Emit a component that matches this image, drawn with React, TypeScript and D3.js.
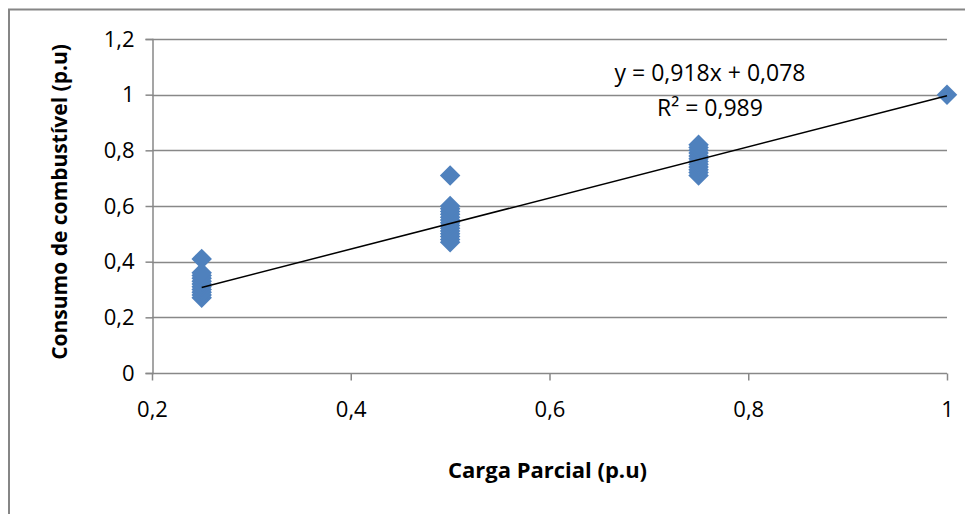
import React, { useEffect, useRef } from 'react';
import * as d3 from 'd3';

// x = carga parcial (p.u), y = consumo de combustível (p.u)
const x25 = [0.27, 0.28, 0.29, 0.3, 0.31, 0.32, 0.33, 0.34, 0.35, 0.36, 0.41];
const x50 = [0.47, 0.48, 0.49, 0.5, 0.51, 0.52, 0.53, 0.54, 0.55, 0.56, 0.57, 0.58, 0.59, 0.6, 0.71];
const x75 = [0.71, 0.72, 0.73, 0.74, 0.75, 0.76, 0.77, 0.78, 0.79, 0.8, 0.81, 0.82];
const x100 = [1.0];

const xTicks = [0.2, 0.4, 0.6, 0.8, 1];
const yTicks = [0, 0.2, 0.4, 0.6, 0.8, 1, 1.2];
const slope = 0.918;
const intercept = 0.078;

const points = [
  ...x25.map((y) => ({ x: 0.25, y })),
  ...x50.map((y) => ({ x: 0.5, y })),
  ...x75.map((y) => ({ x: 0.75, y })),
  ...x100.map((y) => ({ x: 1, y })),
];

const fmt = (v: number) => String(+v.toFixed(1)).replace('.', ',');
const FONT = '"Open Sans", sans-serif';

const App: React.FC = () => {
  const ref = useRef<SVGSVGElement | null>(null);

  useEffect(() => {
    if (!ref.current) return;
    const svg = d3.select(ref.current);
    svg.selectAll('*').remove();

    // svg sits at (8,8) in the page
    const left = 144;
    const right = 939;
    const top = 31;
    const bottom = 365;

    const x = d3.scaleLinear().domain([0.2, 1]).range([left, right]);
    const y = d3.scaleLinear().domain([0, 1.2]).range([bottom, top]);

    svg.append('rect')
      .attr('x', 1).attr('y', 1.5)
      .attr('width', 990).attr('height', 520)
      .attr('fill', 'white')
      .attr('stroke', '#868686').attr('stroke-width', 2);

    // gridlines
    svg.append('g')
      .selectAll('line')
      .data(yTicks.filter((t) => t > 0))
      .enter()
      .append('line')
      .attr('x1', left).attr('x2', right)
      .attr('y1', (d) => Math.round(y(d)) + 0.5)
      .attr('y2', (d) => Math.round(y(d)) + 0.5)
      .attr('stroke', '#888').attr('stroke-width', 1.5);

    const yAxis = svg.append('g')
      .attr('transform', `translate(${left + 0.5},0)`)
      .call(d3.axisLeft(y).tickValues(yTicks).tickFormat((d) => fmt(d as number)).tickSize(7).tickPadding(11));
    const xAxis = svg.append('g')
      .attr('transform', `translate(0,${Math.round(bottom) + 0.5})`)
      .call(d3.axisBottom(x).tickValues(xTicks).tickFormat((d) => fmt(d as number)).tickSize(7).tickPadding(21));

    [yAxis, xAxis].forEach((a) => {
      a.attr('font-family', FONT).attr('font-size', 22);
      a.selectAll('path, line').attr('stroke', '#888').attr('stroke-width', 1.5);
      a.selectAll('text').attr('fill', '#000');
    });
    xAxis.select('.domain').attr('d', `M${left},0H${right}`);

    // markers
    const diamond = d3.symbol().type(d3.symbolSquare).size(210);
    svg.append('g')
      .selectAll('path')
      .data(points)
      .enter()
      .append('path')
      .attr('d', diamond)
      .attr('transform', (d) => `translate(${x(d.x)},${y(d.y)}) rotate(45)`)
      .attr('fill', '#4F81BD');

    // trendline
    svg.append('line')
      .attr('x1', x(0.25)).attr('y1', y(slope * 0.25 + intercept))
      .attr('x2', x(1)).attr('y2', y(slope * 1 + intercept))
      .attr('stroke', '#000').attr('stroke-width', 1.5);

    // equation
    const eq = svg.append('g').attr('font-family', FONT).attr('font-size', 23).attr('text-anchor', 'middle');
    eq.append('text').attr('x', 702).attr('y', 73).text(`y = ${String(slope).replace('.', ',')}x + ${String(intercept).replace('.', ',')}`);
    eq.append('text').attr('x', 702).attr('y', 108).text('R² = 0,989');

    // axis titles
    svg.append('text')
      .attr('x', (left + right) / 2 - 2).attr('y', 470)
      .attr('text-anchor', 'middle')
      .attr('font-family', FONT).attr('font-size', 22).attr('font-weight', 'bold')
      .text('Carga Parcial (p.u)');
    svg.append('text')
      .attr('transform', `translate(59,${(top + bottom) / 2 - 4}) rotate(-90)`)
      .attr('text-anchor', 'middle')
      .attr('font-family', FONT).attr('font-size', 21).attr('font-weight', 'bold')
      .text('Consumo de combustível (p.u)');
  }, []);

  return <svg ref={ref} width={965} height={506} style={{ display: 'block' }} />;
};

export default App;
